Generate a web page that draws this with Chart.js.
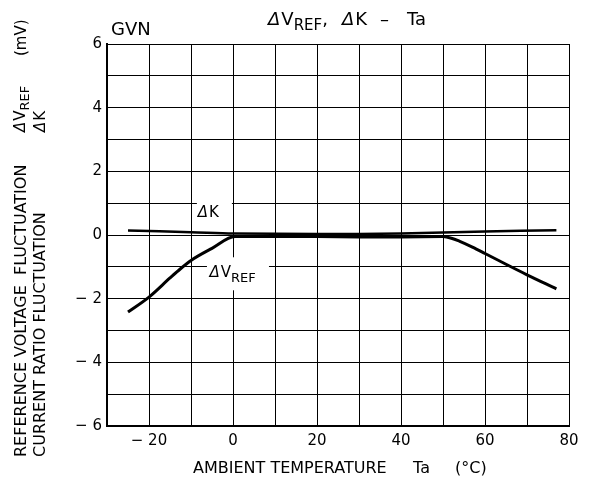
<!DOCTYPE html>
<html>
<head>
<meta charset="utf-8">
<title>dVref, dK - Ta</title>
<script src="https://cdn.jsdelivr.net/npm/chart.js@4.4.1/dist/chart.umd.min.js"></script>
<style>
    html, body { margin: 0; padding: 0; background: #fff; }
    #wrap { width: 589px; height: 490px; position: relative; }
</style>
</head>
<body>
<div id="wrap"><canvas id="vrefChart" width="589" height="490"></canvas></div>
<script>
// Ambient temperature (°C) and fluctuation (mV)
const vrefTemps = [-25, -20, -15, -12.5, -10, -5, 0.5, 10, 20, 30, 40, 50, 52, 54, 57, 60, 65, 70, 77];
const vrefValues = [-2.42, -1.95, -1.35, -1.06, -0.8, -0.42, -0.05, -0.05, -0.05, -0.06, -0.06, -0.05, -0.1, -0.2, -0.38, -0.58, -0.92, -1.25, -1.69];

const kTemps = [-25, -10, 0, 20, 30, 40, 50, 60, 77];
const kValues = [0.14, 0.09, 0.05, 0.03, 0.03, 0.05, 0.08, 0.11, 0.15];

const xTickLabels = [-20, 0, 20, 40, 60, 80];
const yTickLabels = [-6, -4, -2, 0, 2, 4, 6];

const FONT = '"DejaVu Sans", "Open Sans", sans-serif';
const MINUS = '\u2212';

function fmt(v) {
    return v < 0 ? MINUS + ' ' + Math.abs(v) : String(v);
}

function toPoints(xs, ys) {
    return xs.map(function(x, i) { return { x: x, y: ys[i] }; });
}

// slanted delta, then main text, then a subscript; returns the end x
function drawLabel(ctx, main, sub, x, y, size) {
    ctx.font = 'italic ' + size + 'px ' + FONT;
    ctx.fillText('\u0394', x, y);
    x += ctx.measureText('\u0394').width + 1;
    ctx.font = size + 'px ' + FONT;
    ctx.fillText(main, x, y);
    x += ctx.measureText(main).width;
    if (sub) {
        ctx.font = Math.round(size * 0.85) + 'px ' + FONT;
        ctx.fillText(sub, x, y + size * 0.3);
        x += ctx.measureText(sub).width;
    }
    return x;
}

const textPlugin = {
    id: 'chartTexts',
    beforeDatasetsDraw(chart) {
        const ctx = chart.ctx;
        const xs = chart.scales.x, ys = chart.scales.y;
        ctx.save();
        ctx.fillStyle = '#fff';
        // cut-outs in the grid behind the curve names
        ctx.fillRect(xs.getPixelForValue(-8.6), ys.getPixelForValue(1.15), 35, 21);
        ctx.fillRect(xs.getPixelForValue(-6.2), ys.getPixelForValue(-0.7), 62, 33);
        ctx.fillStyle = '#000';
        ctx.textBaseline = 'alphabetic';
        ctx.textAlign = 'left';
        drawLabel(ctx, 'K', null, xs.getPixelForValue(-8.4), ys.getPixelForValue(0.55), 15);
        drawLabel(ctx, 'V', 'REF', xs.getPixelForValue(-5.6), ys.getPixelForValue(-1.33), 15);
        ctx.restore();
    },
    afterDraw(chart) {
        const ctx = chart.ctx;
        ctx.save();
        ctx.fillStyle = '#000';
        ctx.textAlign = 'left';
        ctx.textBaseline = 'alphabetic';

        ctx.font = '18px ' + FONT;
        ctx.fillText('GVN', 111, 35);

        // title: ΔVREF, ΔK – Ta
        let x = drawLabel(ctx, 'V', 'REF', 268, 25, 18);
        ctx.font = '18px ' + FONT;
        ctx.fillText(',', x, 25);
        drawLabel(ctx, 'K', null, 342, 25, 18);
        ctx.font = '18px ' + FONT;
        ctx.fillText('\u2013', 380, 25);
        ctx.fillText('Ta', 407, 25);

        // x axis title
        ctx.font = '16px ' + FONT;
        ctx.fillText('AMBIENT TEMPERATURE', 193, 473);
        ctx.fillText('Ta', 413, 473);
        ctx.fillText('(\u00b0C)', 455, 473);

        // rotated y axis titles
        ctx.textBaseline = 'middle';
        function vtext(cx, startY, draw) {
            ctx.save();
            ctx.translate(cx, startY);
            ctx.rotate(-Math.PI / 2);
            draw();
            ctx.restore();
        }
        vtext(22, 457, function() {
            ctx.font = '16px ' + FONT;
            ctx.fillText('REFERENCE VOLTAGE  FLUCTUATION', 0, 0);
        });
        vtext(22, 132, function() {
            drawLabel(ctx, 'V', 'REF', 0, -1, 15);
        });
        vtext(22, 56, function() {
            ctx.font = '15px ' + FONT;
            ctx.fillText('(mV)', 0, 0);
        });
        vtext(41, 457, function() {
            ctx.font = '16px ' + FONT;
            ctx.fillText('CURRENT RATIO FLUCTUATION', 0, 0);
        });
        vtext(41, 132, function() {
            drawLabel(ctx, 'K', null, 0, 0, 15);
        });
        ctx.restore();
    }
};

const ctx = document.getElementById('vrefChart').getContext('2d');
new Chart(ctx, {
    type: 'scatter',
    data: {
        datasets: [{
            label: '\u0394K',
            data: toPoints(kTemps, kValues),
            showLine: true,
            borderColor: '#000',
            borderWidth: 2.5,
            pointRadius: 0,
            tension: 0.3
        }, {
            label: '\u0394VREF',
            data: toPoints(vrefTemps, vrefValues),
            showLine: true,
            borderColor: '#000',
            borderWidth: 3,
            pointRadius: 0,
            cubicInterpolationMode: 'monotone'
        }]
    },
    options: {
        responsive: false,
        animation: false,
        events: [],
        layout: { padding: { left: 0, top: 44, right: 20, bottom: 0 } },
        plugins: {
            legend: { display: false },
            tooltip: { enabled: false }
        },
        scales: {
            x: {
                type: 'linear',
                min: -30,
                max: 80,
                afterFit: function(scale) { scale.height = 64; },
                ticks: {
                    stepSize: 10,
                    autoSkip: false,
                    maxRotation: 0,
                    padding: 6,
                    color: '#000',
                    font: { family: FONT, size: 15 },
                    callback: function(v) { return xTickLabels.includes(v) ? fmt(v) : ''; }
                },
                grid: { color: '#000', lineWidth: 1, drawTicks: false },
                border: { color: '#000', width: 2 }
            },
            y: {
                type: 'linear',
                min: -6,
                max: 6,
                afterFit: function(scale) { scale.width = 107; },
                ticks: {
                    stepSize: 1,
                    autoSkip: false,
                    padding: 5,
                    color: '#000',
                    font: { family: FONT, size: 15 },
                    callback: function(v) { return yTickLabels.includes(v) ? fmt(v) : ''; }
                },
                grid: { color: '#000', lineWidth: 1, drawTicks: false },
                border: { color: '#000', width: 2 }
            }
        }
    },
    plugins: [textPlugin]
});
</script>
</body>
</html>
